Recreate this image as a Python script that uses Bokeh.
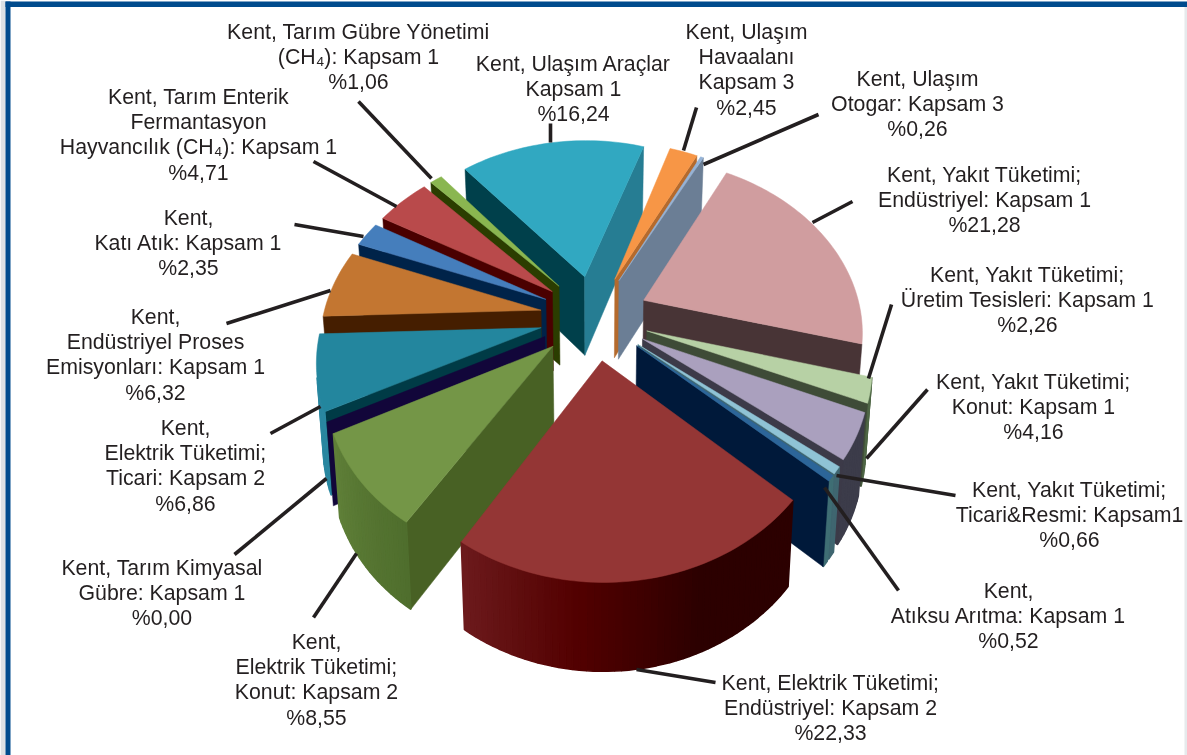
import math
from bokeh.plotting import figure
from bokeh.embed import file_html
from bokeh.resources import INLINE
from bokeh.core.properties import value

# ---- data (clockwise from the top of the pie) ----
names = ["Havaalani", "Otogar", "Yakit Endustriyel", "Yakit Uretim", "Yakit Konut", "Yakit Ticari",
         "Atiksu", "Elektrik Endustriyel", "Elektrik Konut", "Kimyasal Gubre", "Elektrik Ticari",
         "Endustriyel Proses", "Kati Atik", "Enterik", "Gubre Yonetimi", "Ulasim Araclar"]
values = [2.45, 0.26, 21.28, 2.26, 4.16, 0.66, 0.52, 22.33, 8.55, 0.00, 6.86, 6.32, 2.35, 4.71, 1.06, 16.24]
top_colors = ["#F79646", "#95B3D7", "#D09D9F", "#B7D1A5", "#AAA0BE", "#8FC3D5", "#2C6599", "#943635",
              "#749647", "#12063A", "#23869E", "#C37631", "#457EBC", "#B94A4B", "#8AB650", "#31A8C1"]
start_walls = ["#B46A2D", "#6B7E95", "#483436", "#3E4B37", "#3C3A48", "#3E6670", "#00193A", "#2C0000",
               "#486124", "#12063A", "#003B46", "#451E00", "#002349", "#4A0000", "#2B3D00", "#00404B"]
end_walls = ["#B46A2D", "#6B7E95", "#483436", "#3E4B37", "#3C3A48", "#3E6670", "#00193A", "#2C0000",
             "#486124", "#12063A", "#003B46", "#451E00", "#002349", "#4A0000", "#2B3D00", "#267D93"]
outer_walls = [["#B46A2D"], ["#6B7E95"], ["#483436"], ["#4F6746"], ["#3C3C4A"], ["#3F6670"], ["#3F6E74"],
               ["#2C0000", "#2C0000", "#520000", "#6C1A1C"], ["#4F6E2D", "#5F7F38"], ["#12063A"],
               ["#2A87A0"], ["#451E00"], ["#002349"], ["#4A0000"], ["#2B3D00"], ["#00404B"]]

label_lines = [
    ["Kent, Ulaşım", "Havaalanı", "Kapsam 3", "%2,45"],
    ["Kent, Ulaşım", "Otogar: Kapsam 3", "%0,26"],
    ["Kent, Yakıt Tüketimi;", "Endüstriyel: Kapsam 1", "%21,28"],
    ["Kent, Yakıt Tüketimi;", "Üretim Tesisleri: Kapsam 1", "%2,26"],
    ["Kent, Yakıt Tüketimi;", "Konut: Kapsam 1", "%4,16"],
    ["Kent, Yakıt Tüketimi;", "Ticari&Resmi: Kapsam1", "%0,66"],
    ["Kent,", "Atıksu Arıtma: Kapsam 1", "%0,52"],
    ["Kent, Elektrik Tüketimi;", "Endüstriyel: Kapsam 2", "%22,33"],
    ["Kent,", "Elektrik Tüketimi;", "Konut: Kapsam 2", "%8,55"],
    ["Kent, Tarım Kimyasal", "Gübre: Kapsam 1", "%0,00"],
    ["Kent,", "Elektrik Tüketimi;", "Ticari: Kapsam 2", "%6,86"],
    ["Kent,", "Endüstriyel Proses", "Emisyonları: Kapsam 1", "%6,32"],
    ["Kent,", "Katı Atık: Kapsam 1", "%2,35"],
    ["Kent, Tarım Enterik", "Fermantasyon", "Hayvancılık (CH₄): Kapsam 1", "%4,71"],
    ["Kent, Tarım Gübre Yönetimi", "(CH₄): Kapsam 1", "%1,06"],
    ["Kent, Ulaşım Araçlar", "Kapsam 1", "%16,24"],
]
label_x = [746, 917, 984, 1027, 1033, 1069, 1008, 830, 316, 161.5, 185, 155, 188, 198, 358, 573]
label_y = [31, 78, 174, 274, 381, 489, 590, 682, 641, 567, 427, 316, 217, 96, 31, 63]
line_step = 25.4

leader_from_x = [696, 818, 852, 891, 927, 955, 898, 715, 313, 234, 270, 226, 294, 313, 358, 550]
leader_from_y = [107, 114, 201, 304, 389, 495, 590, 682, 617, 554, 433, 323, 224, 161, 101, 123]
leader_to_x = [683, 703, 812, 868, 866, 836, 824, 636, 356, 326, 320, 330, 363, 396, 431, 550]
leader_to_y = [150, 164, 222, 378, 458, 475, 487, 669, 553, 478, 406, 290, 236, 206, 178, 142]

# ---- view of the exploded 3-D pie ----
ROT = 18.4      # degrees the first slice is turned
EXPLODE = 0.25
CX, CY = 594.0, 316.5
SX, SY = 218.0, 170.0
K = 0.161       # perspective of the pie plane
DEPTH = 80.0
KD = 0.08
LEAN = 0.024


def project(u, v, low=False):
    w = 1 - K * v
    x = CX + SX * u / w
    y = CY + SY * v / w
    if low:
        y += DEPTH / (1 - KD * v)
        x = CX + (x - CX) * (1 - LEAN)
    return x, y


def area(pts):
    s = 0.0
    for i in range(len(pts)):
        a, b = pts[i], pts[(i + 1) % len(pts)]
        s += a[0] * b[1] - b[0] * a[1]
    return s


def hex_mix(stops, t):
    if len(stops) == 1:
        return stops[0]
    t = max(0.0, min(1.0, t)) * (len(stops) - 1)
    i = min(int(t), len(stops) - 2)
    f = t - i
    a = [int(stops[i][j:j + 2], 16) for j in (1, 3, 5)]
    b = [int(stops[i + 1][j:j + 2], 16) for j in (1, 3, 5)]
    return "#%02x%02x%02x" % tuple(round(p + (q - p) * f) for p, q in zip(a, b))


total = sum(values)
slices = []
acc = 0.0
for i, val in enumerate(values):
    a0 = ROT + 360 * acc / total
    acc += val
    a1 = ROT + 360 * acc / total
    slices.append((i, a0, a1, (a0 + a1) / 2))
# back slices first
slices.sort(key=lambda s: math.cos(math.radians(s[3])), reverse=True)

xs, ys, fills, widths = [], [], [], []


def add(poly, col, lw):
    xs.append([p[0] for p in poly])
    ys.append([p[1] for p in poly])
    fills.append(col)
    widths.append(lw)


for i, a0, a1, mid in slices:
    m = math.radians(mid)
    ox, oy = EXPLODE * math.sin(m), -EXPLODE * math.cos(m)
    n = max(1, int((a1 - a0) / 1.5))
    arc = []
    for j in range(n + 1):
        t = math.radians(a0 + (a1 - a0) * j / n)
        arc.append((ox + math.sin(t), oy - math.cos(t)))
    apex = (ox, oy)
    ring = [apex] + arc + [apex]
    for j in range(len(ring) - 1):
        P, Q = ring[j], ring[j + 1]
        wall = [project(*P), project(*Q), project(*Q, True), project(*P, True)]
        if area(wall) >= 0:
            continue
        if j == 0:
            add(wall, start_walls[i], 0.5)
        elif j == len(ring) - 2:
            add(wall, end_walls[i], 0.5)
        else:
            add(wall, hex_mix(outer_walls[i], (j - 1) / max(1, n - 1)), 1.6)
    if values[i] > 0:
        add([project(*q) for q in [apex] + arc], top_colors[i], 0.5)

p = figure(width=1187, height=755, x_range=(0, 1187), y_range=(755, 0), output_backend="svg",
           toolbar_location=None, min_border=0, outline_line_color=None,
           styles={"position": "fixed", "left": "0px", "top": "0px"})
p.axis.visible = False
p.grid.visible = False
p.background_fill_color = "white"
p.border_fill_color = "white"

# page frame
p.quad(left=[0], right=[5], top=[0], bottom=[755], fill_color="#DCE1E4", line_color=None)
p.quad(left=[5], right=[10], top=[1], bottom=[755], fill_color="#004B8D", line_color=None)
p.quad(left=[5], right=[1187], top=[1], bottom=[6.5], fill_color="#004B8D", line_color=None)
p.quad(left=[1184], right=[1187], top=[6.5], bottom=[755], fill_color="#E6EAEC", line_color=None)

p.patches(xs, ys, fill_color=fills, line_color=fills, line_width=widths)

p.segment(leader_from_x, leader_from_y, leader_to_x, leader_to_y, line_color="#231F20", line_width=3.6)

tx, ty, tt = [], [], []
for lines, x0, y0 in zip(label_lines, label_x, label_y):
    for k, s in enumerate(lines):
        tx.append(x0)
        ty.append(y0 + k * line_step)
        tt.append(s)
p.text(tx, ty, text=tt, text_font=value("Liberation Sans"), text_font_size=value("21.3px"),
       text_color="#231F20", text_align="center", text_baseline="middle")

open("out.html", "w").write(file_html(p, INLINE))
